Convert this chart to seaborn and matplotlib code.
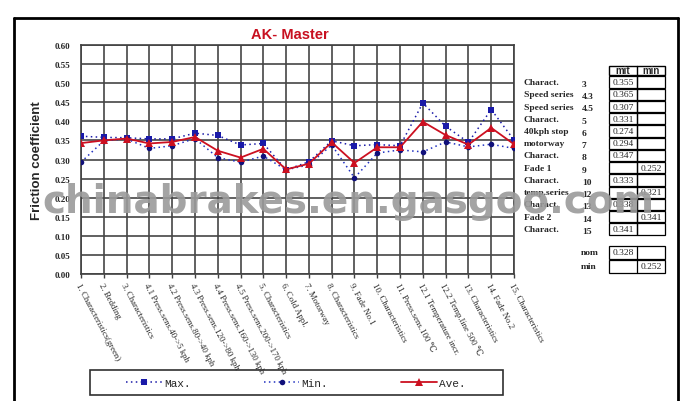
import matplotlib
matplotlib.use("Agg")
import matplotlib.pyplot as plt
from matplotlib.patches import Rectangle
from matplotlib.lines import Line2D
import seaborn as sns
import pandas as pd

categories = ["1. Characteristics(green)", "2. Bedding", "3. Characteristics",
              "4.1 Press.sens.40->5 kph", "4.2 Press.sens.80->40 kph",
              "4.3 Press.sens.120->80 kph", "4.4 Press.sens.160->130 kph",
              "4.5 Press.sens.200->170 kph", "5. Characteristics", "6. Cold Appl.",
              "7. Motorway", "8. Characteristics", "9. Fade No.1", "10. Characteristics",
              "11. Press.sens.100 \u2103", "12.1 Temperature incr.", "12.2 Temp.line 500 \u2103",
              "13. Characteristics", "14. Fade No.2", "15. Characteristics"]
max_vals = [0.361, 0.358, 0.357, 0.354, 0.354, 0.369, 0.363, 0.338, 0.342, 0.273,
            0.294, 0.349, 0.336, 0.339, 0.336, 0.448, 0.387, 0.345, 0.431, 0.351]
min_vals = [0.293, 0.349, 0.354, 0.329, 0.336, 0.355, 0.305, 0.293, 0.309, 0.273,
            0.286, 0.338, 0.252, 0.317, 0.325, 0.320, 0.346, 0.333, 0.340, 0.329]
ave_vals = [0.343, 0.350, 0.355, 0.342, 0.346, 0.359, 0.323, 0.305, 0.328, 0.274,
            0.289, 0.345, 0.291, 0.332, 0.332, 0.399, 0.364, 0.339, 0.383, 0.340]
y_ticks = [0.00, 0.05, 0.10, 0.15, 0.20, 0.25, 0.30, 0.35, 0.40, 0.45, 0.50, 0.55, 0.60]

tbl_names = ["Charact.", "Speed series", "Speed series", "Charact.", "40kph stop",
             "motorway", "Charact.", "Fade 1", "Charact.", "temp.series", "Charact.",
             "Fade 2", "Charact."]
tbl_nums = ["3", "4.3", "4.5", "5", "6", "7", "8", "9", "10", "12", "13", "14", "15"]
tbl_mit = ["0.355", "0.365", "0.307", "0.331", "0.274", "0.294", "0.347", "",
           "0.333", "", "0.338", "", "0.341"]
tbl_min = ["", "", "", "", "", "", "", "0.252", "", "0.321", "", "0.341", ""]
nom_val = "0.328"
min_val = "0.252"

sns.set_theme(style="white")
plt.rcParams['font.family'] = ['Liberation Sans', 'DejaVu Sans']

W, H = 688, 402
fig = plt.figure(figsize=(W / 100, H / 100), dpi=100)

def fx(px):
    return px / W

def fy(py):
    return 1 - py / H

ax = fig.add_axes([fx(81), fy(275), fx(514) - fx(81), fy(46) - fy(275)])

df = pd.DataFrame({"x": range(len(categories)), "Max.": max_vals,
                   "Min.": min_vals, "Ave.": ave_vals})

max_col = "#1a1aa8"
min_col = "#10107a"
ave_col = "#cc1020"
serif = ["Liberation Serif", "DejaVu Serif"]

sns.lineplot(data=df, x="x", y="Max.", ax=ax, color=max_col, linestyle=(0, (1, 2.2)),
             linewidth=1.1, marker="s", markersize=5, markeredgewidth=0, zorder=3)
sns.lineplot(data=df, x="x", y="Min.", ax=ax, color="#2030c0", linestyle=(0, (1, 2.2)),
             linewidth=1.1, marker="o", markersize=4, markeredgewidth=0,
             markerfacecolor=min_col, zorder=3)
sns.lineplot(data=df, x="x", y="Ave.", ax=ax, color=ave_col, linestyle="-",
             linewidth=1.3, marker="^", markersize=5.5, markeredgewidth=0, zorder=4)

ax.set_xlim(0, len(categories) - 1)
ax.set_ylim(0, 0.60)
ax.set_xticks(range(len(categories)))
ax.set_xticklabels(categories, rotation=-62, ha="left", va="top",
                   rotation_mode="anchor", fontsize=6.3, family=serif)
ax.set_yticks(y_ticks)
ax.set_yticklabels([f"{v:.2f}" for v in y_ticks], fontsize=6.5, fontweight="bold",
                   family=serif)
ax.grid(True, color="#454545", linewidth=1.2)
ax.set_axisbelow(True)
for s in ax.spines.values():
    s.set_color("#404040")
    s.set_linewidth(1.2)
ax.tick_params(axis="x", direction="out", length=3, width=1,
               color="#404040", pad=2, bottom=True)
ax.tick_params(axis="y", pad=8, length=0)
ax.set_xlabel("")
ax.set_ylabel("Friction coefficient", fontsize=9.5, fontweight="bold", labelpad=8)

# title
fig.text(fx(290), fy(35), "AK- Master", color="#c81020", fontsize=10.5,
         fontweight="bold", ha="center", va="center")

# outer frame
fig.add_artist(Line2D([fx(14), fx(14)], [fy(19), 0], color="black", lw=2))
fig.add_artist(Line2D([fx(14), fx(678)], [fy(19), fy(19)], color="black", lw=2))
fig.add_artist(Line2D([fx(678), fx(678)], [fy(19), 0], color="black", lw=2))

# legend box
fig.add_artist(Rectangle((fx(90), fy(396)), fx(503) - fx(90), fy(371) - fy(396),
                         fill=False, edgecolor="#303030", lw=1.2))
handles = [
    Line2D([], [], color=max_col, linestyle=(0, (1, 2.2)), lw=1.1, marker="s",
           markersize=5, markeredgewidth=0),
    Line2D([], [], color="#2030c0", linestyle=(0, (1, 2.2)), lw=1.1, marker="o",
           markersize=4, markeredgewidth=0, markerfacecolor=min_col),
    Line2D([], [], color=ave_col, lw=1.3, marker="^", markersize=5.5, markeredgewidth=0),
]
fig.legend(handles, ["Max.", "Min.", "Ave."], loc="center",
           bbox_to_anchor=(fx(296), fy(384)), ncol=3, frameon=False,
           columnspacing=6.6, handlelength=3.2, handletextpad=0.2,
           prop={"family": "Liberation Mono", "size": 8})

# table on the right
row0 = 83
dy = 12.25
name_x = 524
num_x = 582
c1l, c1r, c2r = 609, 637, 665
# header
fig.add_artist(Rectangle((fx(c1l), fy(76)), fx(c2r) - fx(c1l), fy(67) - fy(76),
                         fill=False, edgecolor="black", lw=1))
fig.add_artist(Line2D([fx(c1r), fx(c1r)], [fy(67), fy(76)], color="black", lw=1))
fig.text(fx((c1l + c1r) / 2), fy(71.5), "mit", fontsize=7, fontweight="bold",
         ha="center", va="center")
fig.text(fx((c1r + c2r) / 2), fy(71.5), "min", fontsize=7, fontweight="bold",
         ha="center", va="center")
for i, (nm, nu, m1, m2) in enumerate(zip(tbl_names, tbl_nums, tbl_mit, tbl_min)):
    yc = row0 + i * dy
    fig.text(fx(name_x), fy(yc), nm, fontsize=6.8, fontweight="bold",
             family=serif, ha="left", va="center")
    fig.text(fx(num_x), fy(yc + 2), nu, fontsize=6.8, fontweight="bold",
             family=serif, ha="left", va="center")
    top, bot = yc - dy / 2 + 0.6, yc + dy / 2 - 0.6
    fig.add_artist(Rectangle((fx(c1l), fy(bot)), fx(c1r) - fx(c1l), fy(top) - fy(bot),
                             fill=False, edgecolor="black", lw=0.9))
    fig.add_artist(Rectangle((fx(c1r), fy(bot)), fx(c2r) - fx(c1r), fy(top) - fy(bot),
                             fill=False, edgecolor="black", lw=0.9))
    if m1:
        fig.text(fx((c1l + c1r) / 2), fy(yc), m1, fontsize=6.8, family=serif,
                 ha="center", va="center")
    if m2:
        fig.text(fx((c1r + c2r) / 2), fy(yc), m2, fontsize=6.8, family=serif,
                 ha="center", va="center")
for label, yc, v, col in [("nom", 253, nom_val, 0), ("min", 267, min_val, 1)]:
    fig.text(fx(num_x - 1), fy(yc), label, fontsize=6.8, fontweight="bold",
             family=serif, ha="left", va="center")
    fig.add_artist(Rectangle((fx(c1l), fy(yc + 6.5)), fx(c2r) - fx(c1l), fy(yc - 6.5) - fy(yc + 6.5),
                             fill=False, edgecolor="black", lw=0.9))
    fig.add_artist(Line2D([fx(c1r), fx(c1r)], [fy(yc - 6.5), fy(yc + 6.5)], color="black", lw=0.9))
    cx = (c1l + c1r) / 2 if col == 0 else (c1r + c2r) / 2
    fig.text(fx(cx), fy(yc), v, fontsize=6.8, family=serif, ha="center", va="center")

# watermark
fig.text(fx(348), fy(202), "chinabrakes.en.gasgoo.com", fontsize=28, fontweight="bold",
         color="#9a9a9a", alpha=0.9, ha="center", va="center",
         family=["DejaVu Sans"], zorder=10)

fig.savefig("out.png", dpi=100)
